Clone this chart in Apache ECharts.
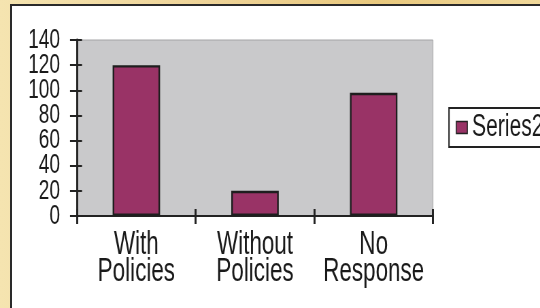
<!DOCTYPE html>
<html>
<head>
<meta charset="utf-8">
<script src="https://cdn.jsdelivr.net/npm/echarts@6/dist/echarts.min.js"></script>
<style>
  html, body { margin: 0; padding: 0; }
  body {
    width: 540px; height: 308px; overflow: hidden; position: relative;
    background: linear-gradient(90deg, #f5e4b0 0%, #eed397 40%, #e9c97e 70%, #f0d89a 100%);
  }
  #paper {
    position: absolute; left: 10px; top: 4px; width: 560px; height: 330px;
    background: #ffffff; border-left: 2px solid #2a2a2a; border-top: 2px solid #2a2a2a;
  }
  /* the reference's text is horizontally condensed; draw wide and compress */
  #chart {
    position: absolute; left: 0; top: 0; width: 794px; height: 308px;
    transform: scaleX(0.68010); transform-origin: 0 0;
  }
</style>
</head>
<body>
<div id="paper"></div>
<div id="chart"></div>
<script>
const categories = ['With\nPolicies', 'Without\nPolicies', 'No\nResponse'];
const seriesName = 'Series2';
const seriesValues = [120, 20, 98];
const yMin = 0, yMax = 140, yInterval = 20;
const yTickLabels = ['0', '20', '40', '60', '80', '100', '120', '140'];

const S = 0.68010; // horizontal compression of the drawing
const FONT = "'Liberation Sans', Arial, Helvetica, sans-serif";
const chart = echarts.init(document.getElementById('chart'), null, { renderer: 'canvas' });

const xCommon = { type: 'category', data: categories, position: 'bottom' };

chart.setOption({
  backgroundColor: 'transparent',
  animation: false,
  grid: {
    left: 77 / S, top: 40, right: 107 / S, bottom: 92,
    show: true, backgroundColor: '#c9c9cb', borderColor: '#a4a4a6', borderWidth: 1
  },
  legend: {
    left: 449 / S, top: 108,
    padding: [4, 10, 4, 10],
    borderColor: '#222', borderWidth: 2, backgroundColor: '#fff', borderRadius: 0,
    itemWidth: 11 / S, itemHeight: 12, itemGap: 5,
    icon: 'rect',
    itemStyle: { color: '#993366', borderColor: '#222', borderWidth: 1.5 },
    textStyle: { fontFamily: FONT, fontSize: 31, color: '#1a1a1a', padding: [0, 0, 0, 2] },
    data: [seriesName]
  },
  xAxis: [
    Object.assign({}, xCommon, {
      axisLine: { show: true, lineStyle: { color: '#222', width: 2 } },
      axisTick: { show: true, inside: false, length: 8, lineStyle: { color: '#222', width: 2 / S } },
      axisLabel: { fontFamily: FONT, fontSize: 33, lineHeight: 27, color: '#1a1a1a', margin: 15, interval: 0 }
    }),
    Object.assign({}, xCommon, {
      axisLine: { show: false },
      axisTick: { show: true, inside: true, length: 7, lineStyle: { color: '#222', width: 2 / S } },
      axisLabel: { show: false }
    })
  ],
  yAxis: [
    {
      type: 'value', min: yMin, max: yMax, interval: yInterval, position: 'left',
      splitLine: { show: false },
      axisLine: { show: true, lineStyle: { color: '#222', width: 2 / S } },
      axisTick: { show: true, inside: true, length: 5 / S, lineStyle: { color: '#222', width: 2 } },
      axisLabel: { show: false }
    },
    {
      type: 'category', data: yTickLabels, boundaryGap: false, position: 'left',
      splitLine: { show: false },
      axisLine: { show: false },
      axisTick: { show: true, inside: false, interval: 0, length: 7 / S, lineStyle: { color: '#222', width: 2 } },
      axisLabel: {
        interval: 0, fontFamily: FONT, fontSize: 28, color: '#1a1a1a', margin: 17 / S,
        padding: [0, 0, 6, 0]
      }
    }
  ],
  series: [{
    name: seriesName, type: 'bar', data: seriesValues,
    xAxisIndex: 0, yAxisIndex: 0,
    barWidth: '40%',
    itemStyle: { color: '#993366', borderColor: '#1e1e1e', borderWidth: 2.4 }
  }]
});
</script>
</body>
</html>
